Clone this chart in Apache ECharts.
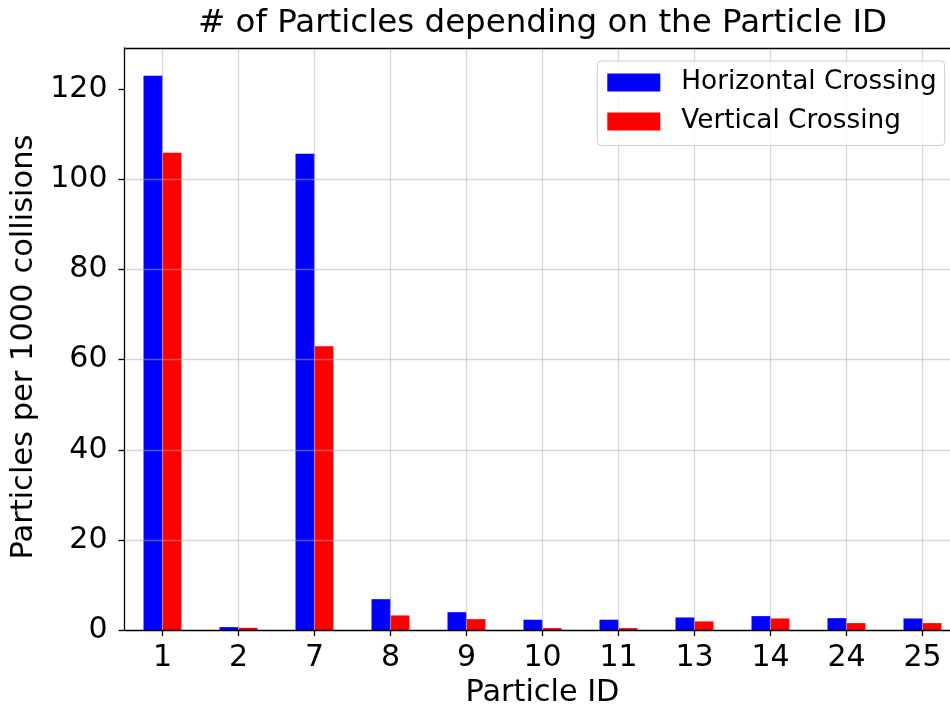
<!DOCTYPE html>
<html>
<head>
<meta charset="utf-8">
<title># of Particles depending on the Particle ID</title>
<script src="https://cdn.jsdelivr.net/npm/echarts@6/dist/echarts.min.js"></script>
<style>
  html, body { margin: 0; padding: 0; background: #ffffff; overflow: hidden; width: 950px; height: 713px; }
  /* the plotting area runs past the right edge of the page, so the canvas is wider than the view */
  #chart { width: 962px; height: 713px; }
</style>
</head>
<body>
<div id="chart"></div>
<script>
// Particle IDs on the x axis
const particleIds = ['1', '2', '7', '8', '9', '10', '11', '13', '14', '24', '25'];

// Particles per 1000 collisions, by crossing type
const horizontalCrossing = [123.0, 0.66, 105.7, 6.86, 3.98, 2.3, 2.3, 2.8, 3.1, 2.65, 2.58];
const verticalCrossing   = [105.9, 0.5, 63.0, 3.25, 2.43, 0.44, 0.44, 1.92, 2.58, 1.55, 1.55];

// y-axis tick values
const yTicks = [0, 20, 40, 60, 80, 100, 120];

// Upper limit leaves 5% headroom above the tallest bar
const yMax = Math.max(...horizontalCrossing, ...verticalCrossing) * 1.05;

// Half-step positions used only to place vertical grid lines at the category centres
const gridSteps = Array.from({ length: particleIds.length * 2 + 1 }, (_, i) => String(i));

const FONT = 'DejaVu Sans';
const GRID_LINE = { color: 'rgba(176,176,176,0.5)', width: 1.3 };
const SPINE = { color: '#000000', width: 1.3 };

const chart = echarts.init(document.getElementById('chart'), null, { renderer: 'canvas' });

chart.setOption({
  animation: false,
  backgroundColor: '#ffffff',
  textStyle: { fontFamily: FONT },
  title: {
    text: '# of Particles depending on the Particle ID',
    left: 542.5,
    top: 7.5,
    padding: 0,
    textAlign: 'center',
    textStyle: { fontFamily: FONT, fontSize: 32.5, fontWeight: 'normal', color: '#000000' }
  },
  legend: {
    orient: 'vertical',
    left: 597.3,
    top: 61,
    padding: [8.5, 8, 11, 10],
    itemWidth: 53,
    itemHeight: 18,
    itemGap: 13,
    icon: 'rect',
    backgroundColor: 'rgba(255,255,255,0.8)',
    borderColor: '#cccccc',
    borderWidth: 1,
    borderRadius: 4,
    textStyle: { fontFamily: FONT, fontSize: 26.3, color: '#000000', padding: [0, 0, 0, 16] },
    data: ['Horizontal Crossing', 'Vertical Crossing']
  },
  grid: { left: 124.5, top: 48, width: 836, height: 584, containLabel: false },
  xAxis: [
    {
      type: 'category',
      data: particleIds,
      position: 'bottom',
      z: 3,
      name: 'Particle ID',
      nameLocation: 'middle',
      nameGap: 40,
      nameTextStyle: { fontFamily: FONT, fontSize: 30.3, color: '#000000' },
      axisLine: { show: true, lineStyle: SPINE },
      axisTick: { show: true, alignWithLabel: true, length: 6, lineStyle: SPINE },
      axisLabel: { fontFamily: FONT, fontSize: 30, color: '#000000', margin: 13 },
      splitLine: { show: false }
    },
    {
      // carries the top frame line and the vertical grid lines
      type: 'category',
      data: gridSteps,
      position: 'top',
      boundaryGap: false,
      z: 3,
      axisLine: { show: true, lineStyle: SPINE },
      axisTick: { show: false },
      axisLabel: { show: false },
      splitLine: {
        show: true,
        interval: (idx) => idx % 2 === 1,
        lineStyle: GRID_LINE
      }
    }
  ],
  yAxis: {
    type: 'value',
    min: 0,
    max: yMax,
    interval: 20,
    z: 3,
    name: 'Particles per 1000 collisions',
    nameLocation: 'middle',
    nameGap: 85,
    nameTextStyle: { fontFamily: FONT, fontSize: 30.5, color: '#000000', padding: [0, 16, 0, 0] },
    axisLine: { show: true, lineStyle: SPINE },
    axisTick: { show: true, length: 6, lineStyle: SPINE, customValues: yTicks },
    axisLabel: {
      fontFamily: FONT, fontSize: 30, color: '#000000', margin: 17,
      customValues: yTicks,
      formatter: (v) => (yTicks.includes(v) ? String(v) : '')
    },
    splitLine: { show: true, showMinLine: false, showMaxLine: false, lineStyle: GRID_LINE }
  },
  series: [
    {
      name: 'Horizontal Crossing',
      type: 'bar',
      xAxisIndex: 0,
      data: horizontalCrossing,
      barWidth: 19,
      barGap: '0%',
      itemStyle: { color: '#0000ff' }
    },
    {
      name: 'Vertical Crossing',
      type: 'bar',
      xAxisIndex: 0,
      data: verticalCrossing,
      barWidth: 19,
      barGap: '0%',
      itemStyle: { color: '#ff0000' }
    }
  ]
});
</script>
</body>
</html>
